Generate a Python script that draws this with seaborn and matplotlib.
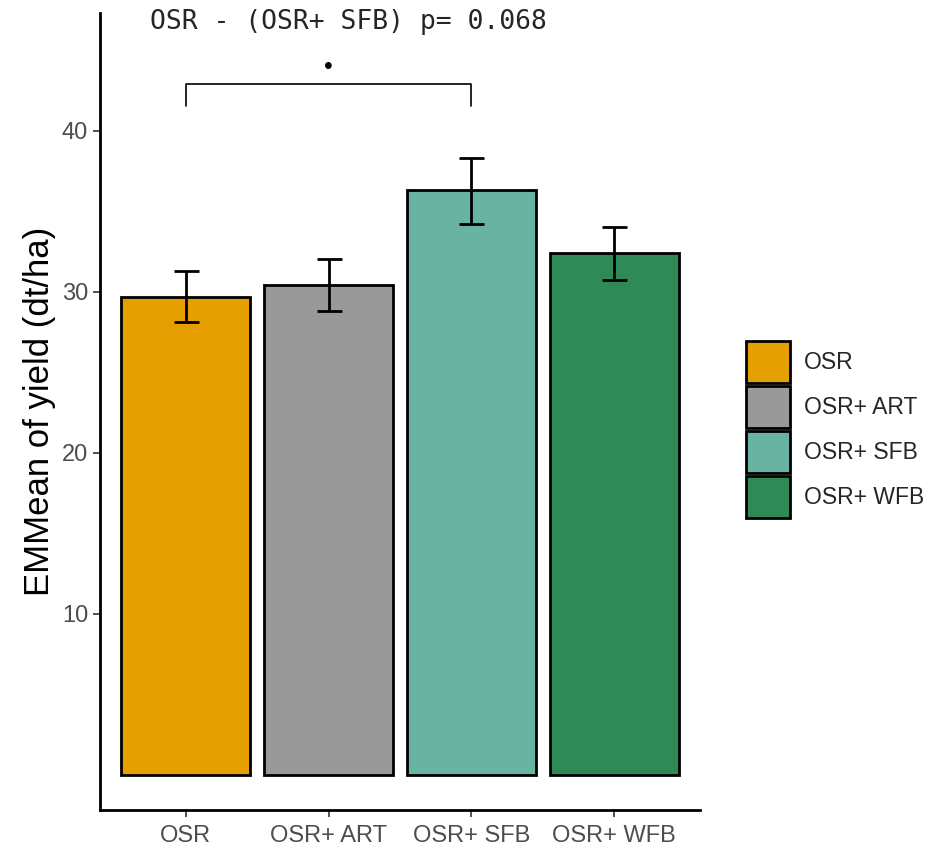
import matplotlib
matplotlib.use("Agg")
import matplotlib.pyplot as plt
import numpy as np
import pandas as pd
import seaborn as sns

# EMMeans of yield per treatment, with lower / upper error limits
treatments = ["OSR", "OSR+ ART", "OSR+ SFB", "OSR+ WFB"]
emmean = [29.7, 30.4, 36.3, 32.4]
lower = [28.1, 28.8, 34.2, 30.7]
upper = [31.3, 32.0, 38.3, 34.0]
colors = ["#E69F00", "#999999", "#69B3A2", "#2E8B57"]

comparison = ("OSR", "OSR+ SFB")
p_value = 0.068

sns.set_theme(style="ticks")
plt.rcParams["font.family"] = ["Liberation Sans", "DejaVu Sans"]

df = pd.DataFrame({"treatment": treatments, "emmean": emmean,
                   "lower": lower, "upper": upper})

fig = plt.figure(figsize=(9.38, 8.49), dpi=100)
ax = fig.add_axes([100 / 938, 1 - 810 / 849, 600 / 938, 797 / 849])

sns.barplot(df, x="treatment", y="emmean", hue="treatment",
            palette=dict(zip(treatments, colors)), width=0.9,
            edgecolor="black", linewidth=2, saturation=1, ax=ax,
            legend=True)

pos = np.arange(len(treatments))
err = [df.emmean - df.lower, df.upper - df.emmean]
ax.errorbar(pos, df.emmean, yerr=err, fmt="none", ecolor="black",
            elinewidth=2, capsize=9, capthick=2, zorder=5)

# significance bracket
i0, i1 = treatments.index(comparison[0]), treatments.index(comparison[1])
top = df.upper.max()
by = top + 4.6
ax.plot([i0, i0, i1, i1], [by - 1.4, by, by, by - 1.4], color="black", lw=1.2)
ax.text((i0 + i1) / 2, by + 0.3, "•", ha="center", va="bottom", fontsize=18,
        color="black")

ax.set_xlim(-0.6, 3.6)
ax.set_ylim(-2.17, 47.3)
ax.set_yticks([10, 20, 30, 40])
ax.set_xlabel("")
ax.set_ylabel("EMMean of yield (dt/ha)", fontsize=25, color="black", labelpad=4)
ax.tick_params(axis="both", labelsize=17, labelcolor="#4D4D4D", color="#333333",
               width=1.2, length=5)
ax.tick_params(axis="x", pad=6)
for s in ["left", "bottom"]:
    ax.spines[s].set_linewidth(2)
    ax.spines[s].set_color("black")
sns.despine(ax=ax)

handles, labels = ax.get_legend_handles_labels()
ax.get_legend().remove()
fig.legend(handles, labels, loc="upper left", bbox_to_anchor=(746 / 938, 1 - 341 / 849),
           frameon=False, fontsize=16.5, handlelength=1.92, handleheight=2.44,
           labelspacing=0.13, borderpad=0, borderaxespad=0, handletextpad=0.6)

fig.text(150 / 938, 1 - 22 / 849,
         f"{comparison[0]} - ({comparison[1]}) p= {p_value}",
         family="DejaVu Sans Mono", fontsize=19, ha="left", va="center")

fig.savefig("out.png", dpi=100)
